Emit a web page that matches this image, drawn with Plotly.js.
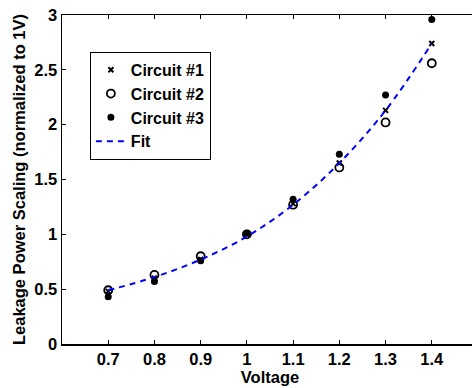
<!DOCTYPE html>
<html><head><meta charset="utf-8">
<script src="https://cdn.plot.ly/plotly-3.0.1.min.js"></script>
<style>html,body{margin:0;padding:0;overflow:hidden;background:#fff;width:472px;height:388px}</style>
</head><body><div id="chart"></div>
<script>
const voltage = [0.7, 0.8, 0.9, 1.0, 1.1, 1.2, 1.3, 1.4];
const circuit1 = [0.48, 0.60, 0.77, 1.00, 1.28, 1.65, 2.13, 2.74];
const circuit2 = [0.49, 0.63, 0.80, 1.00, 1.27, 1.61, 2.02, 2.56];
const circuit3 = [0.43, 0.57, 0.76, 1.01, 1.32, 1.73, 2.27, 2.96];
const fitV = [0.7, 0.8, 0.9, 1.0, 1.1, 1.2, 1.3, 1.4];
const fitY = [0.49, 0.61, 0.77, 0.98, 1.27, 1.65, 2.13, 2.74];
const xTicks = [0.7, 0.8, 0.9, 1, 1.1, 1.2, 1.3, 1.4];
const xTickText = ['0.7', '0.8', '0.9', '1', '1.1', '1.2', '1.3', '1.4'];
const yTicks = [0, 0.5, 1, 1.5, 2, 2.5, 3];
const yTickText = ['0', '0.5', '1', '1.5', '2', '2.5', '3'];

const FAM = 'Liberation Sans, Arial, Helvetica, sans-serif';
const bold = (s) => ({family: FAM, size: s, color: '#000', weight: 'bold'});
const traces = [
  {x: voltage, y: circuit1, name: 'Circuit #1', mode: 'markers', type: 'scatter',
   marker: {symbol: 'x-thin', size: 5, color: '#000', line: {width: 2, color: '#000'}}},
  {x: voltage, y: circuit2, name: 'Circuit #2', mode: 'markers', type: 'scatter',
   marker: {symbol: 'circle-open', size: 8, color: '#000', line: {width: 1.8, color: '#000'}}},
  {x: voltage, y: circuit3, name: 'Circuit #3', mode: 'markers', type: 'scatter',
   marker: {symbol: 'circle', size: 7, color: '#000'}},
  {x: fitV, y: fitY, name: 'Fit', mode: 'lines', type: 'scatter',
   line: {color: '#0000ff', width: 2, dash: '6px,5px', shape: 'spline'}}
];
const layout = {
  width: 478, height: 388,
  margin: {l: 62, r: 0, t: 15, b: 44},
  paper_bgcolor: '#fff', plot_bgcolor: '#fff',
  font: bold(16),
  showlegend: true,
  legend: {x: 0.067, y: 0.888, xanchor: 'left', yanchor: 'top',
    bgcolor: '#fff', bordercolor: '#000', borderwidth: 1,
    font: bold(16), tracegroupgap: 0, itemwidth: 30},
  xaxis: {range: [0.6, 1.5], tickvals: xTicks, ticktext: xTickText,
    showgrid: false, zeroline: false, showline: true, linecolor: '#000', linewidth: 1.5, mirror: 'ticks',
    ticks: 'inside', ticklen: 4, tickcolor: '#000',
    tickfont: bold(16.5),
    title: {text: 'Voltage', standoff: 0, font: bold(16.5)}},
  yaxis: {range: [0, 3], tickvals: yTicks, ticktext: yTickText,
    showgrid: false, zeroline: false, showline: true, linecolor: '#000', linewidth: 1.5, mirror: 'ticks',
    ticks: 'inside', ticklen: 4, tickcolor: '#000',
    tickfont: bold(16.5),
    title: {text: 'Leakage Power Scaling (normalized to 1V)', standoff: 4, font: bold(16.5)}}
};
Plotly.newPlot('chart', traces, layout, {displayModeBar: false, staticPlot: true});
</script></body></html>
